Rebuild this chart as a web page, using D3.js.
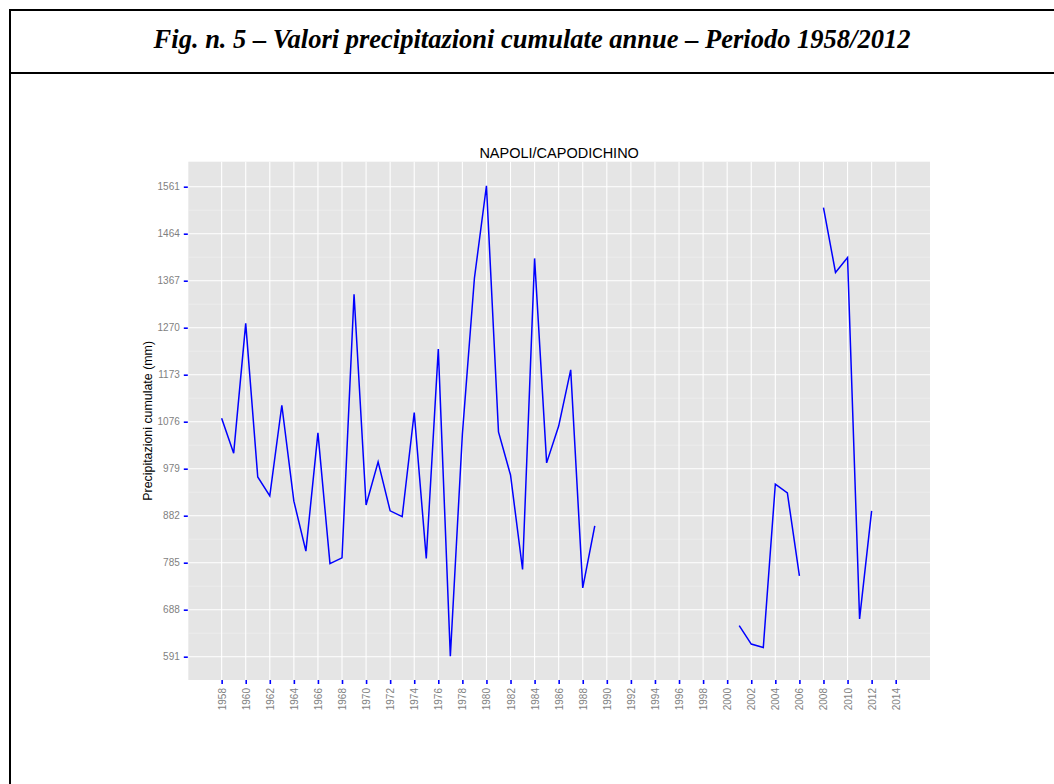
<!DOCTYPE html>
<html>
<head>
<meta charset="utf-8">
<script src="https://cdn.jsdelivr.net/npm/d3@7"></script>
<style>
  body { margin: 0; background: #fff; }
  svg { display: block; }
</style>
</head>
<body>
<svg id="chart"></svg>
<script>
// annual cumulative precipitation, Napoli/Capodichino (null = missing year)
const years = d3.range(1958, 2013);
const precip = [
  1083, 1011, 1279, 962, 923, 1110, 912, 809, 1053, 783,
  795, 1339, 904, 993, 892, 880, 1095, 794, 1226, 592,
  1050, 1372, 1563, 1055, 966, 771, 1413, 991, 1067, 1183,
  733, 861, null, null, null, null, null, null, null, null,
  null, null, null, 655, 617, 610, 947, 929, 758, null,
  1518, 1384, 1415, 669, 892
];
const yTicks = [591, 688, 785, 882, 979, 1076, 1173, 1270, 1367, 1464, 1561];
const xTicks = d3.range(1958, 2015, 2);

const figTitle = "Fig. n. 5 \u2013 Valori precipitazioni cumulate annue \u2013 Periodo 1958/2012";
const plotTitle = "NAPOLI/CAPODICHINO";
const yLabel = "Precipitazioni cumulate (mm)";

const W = 1054, H = 784;
const panel = { left: 188.3, right: 930, top: 161.7, bottom: 680 };

const svg = d3.select("#chart")
  .attr("width", W)
  .attr("height", H);

// document frame + header
const frame = svg.append("g").attr("stroke", "#000").attr("stroke-width", 2);
frame.append("line").attr("x1", 10).attr("x2", W + 5).attr("y1", 10).attr("y2", 10);
frame.append("line").attr("x1", 10).attr("x2", W + 5).attr("y1", 73).attr("y2", 73);
frame.append("line").attr("x1", 10).attr("x2", 10).attr("y1", 9).attr("y2", H + 5);

svg.append("text")
  .attr("x", 532)
  .attr("y", 48)
  .attr("text-anchor", "middle")
  .attr("font-family", "'Liberation Serif', 'Times New Roman', serif")
  .attr("font-weight", "bold")
  .attr("font-style", "italic")
  .attr("font-size", 26.5)
  .text(figTitle);

const x = d3.scaleLinear()
  .domain([1955.23, 2016.85])
  .range([panel.left, panel.right]);

const y = d3.scaleLinear()
  .domain([542.9, 1612.6])
  .range([panel.bottom, panel.top]);

svg.append("rect")
  .attr("x", panel.left)
  .attr("y", panel.top)
  .attr("width", panel.right - panel.left)
  .attr("height", panel.bottom - panel.top)
  .attr("fill", "#E5E5E5");

// minor horizontal grid
const minorY = d3.range(yTicks.length - 1).map(i => (yTicks[i] + yTicks[i + 1]) / 2);
svg.append("g")
  .selectAll("line")
  .data(minorY)
  .join("line")
  .attr("x1", panel.left).attr("x2", panel.right)
  .attr("y1", d => y(d)).attr("y2", d => y(d))
  .attr("stroke", "#F2F2F2")
  .attr("stroke-width", 0.6);

// major grid
const grid = svg.append("g").attr("stroke", "#fff").attr("stroke-width", 1.1);
grid.selectAll(".gy")
  .data(yTicks)
  .join("line")
  .attr("class", "gy")
  .attr("x1", panel.left).attr("x2", panel.right)
  .attr("y1", d => y(d)).attr("y2", d => y(d));
grid.selectAll(".gx")
  .data(xTicks)
  .join("line")
  .attr("class", "gx")
  .attr("y1", panel.top).attr("y2", panel.bottom)
  .attr("x1", d => x(d)).attr("x2", d => x(d));

// data line
const series = years.map((yr, i) => ({ year: yr, value: precip[i] }));
const line = d3.line()
  .defined(d => d.value != null)
  .x(d => x(d.year))
  .y(d => y(d.value));

svg.append("path")
  .datum(series)
  .attr("fill", "none")
  .attr("stroke", "#0000FF")
  .attr("stroke-width", 1.5)
  .attr("stroke-linejoin", "miter")
  .attr("d", line);

// axes
const yAxis = d3.axisLeft(y)
  .tickValues(yTicks)
  .tickSize(4)
  .tickPadding(4)
  .tickFormat(d3.format("d"));

const gy = svg.append("g")
  .attr("transform", `translate(${panel.left - 0.5},0)`)
  .call(yAxis);

const xAxis = d3.axisBottom(x)
  .tickValues(xTicks)
  .tickSize(4)
  .tickFormat(d3.format("d"));

const gx = svg.append("g")
  .attr("transform", `translate(0,${panel.bottom})`)
  .call(xAxis);

[gx, gy].forEach(g => {
  g.select(".domain").remove();
  g.selectAll(".tick line").attr("stroke", "#0000FF").attr("stroke-width", 1.6);
  g.selectAll(".tick text")
    .attr("fill", "#7F7F7F")
    .attr("font-family", "'Liberation Sans', Arial, sans-serif")
    .attr("font-size", 10);
});

gx.selectAll(".tick text")
  .attr("transform", "rotate(-90)")
  .attr("text-anchor", "end")
  .attr("x", -8)
  .attr("y", 0)
  .attr("dy", "0.35em");

svg.append("text")
  .attr("x", (panel.left + panel.right) / 2)
  .attr("y", 157.5)
  .attr("text-anchor", "middle")
  .attr("font-family", "'Liberation Sans', Arial, sans-serif")
  .attr("font-size", 14.5)
  .attr("fill", "#000")
  .text(plotTitle);

svg.append("text")
  .attr("transform", `translate(152,${(panel.top + panel.bottom) / 2}) rotate(-90)`)
  .attr("text-anchor", "middle")
  .attr("font-family", "'Liberation Sans', Arial, sans-serif")
  .attr("font-size", 12.4)
  .attr("fill", "#000")
  .text(yLabel);
</script>
</body>
</html>
